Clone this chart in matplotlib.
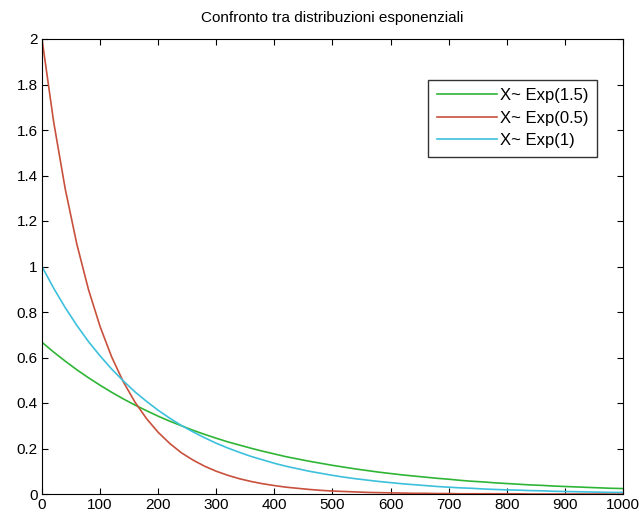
import matplotlib
matplotlib.use('Agg')
import matplotlib.pyplot as plt

plt.rcParams['font.family'] = ['Liberation Sans', 'DejaVu Sans']

# sample index (0..1000, every 20)
x = list(range(0, 1001, 20))

# values
exp_15 = [0.667, 0.624, 0.584, 0.546, 0.511, 0.478, 0.447, 0.418, 0.391, 0.366,
          0.342, 0.320, 0.300, 0.280, 0.262, 0.245, 0.229, 0.215, 0.201, 0.188,
          0.176, 0.164, 0.154, 0.144, 0.135, 0.126, 0.118, 0.110, 0.103, 0.096,
          0.090, 0.084, 0.079, 0.074, 0.069, 0.065, 0.060, 0.056, 0.053, 0.049,
          0.046, 0.043, 0.040, 0.038, 0.035, 0.033, 0.031, 0.029, 0.027, 0.025,
          0.024]
exp_05 = [2.000, 1.637, 1.341, 1.098, 0.899, 0.736, 0.602, 0.493, 0.404, 0.331,
          0.271, 0.222, 0.181, 0.149, 0.122, 0.100, 0.082, 0.067, 0.055, 0.045,
          0.037, 0.030, 0.025, 0.020, 0.016, 0.013, 0.011, 0.009, 0.007, 0.006,
          0.005, 0.004, 0.003, 0.003, 0.002, 0.002, 0.001, 0.001, 0.001, 0.001,
          0.001, 0.001, 0.000, 0.000, 0.000, 0.000, 0.000, 0.000, 0.000, 0.000,
          0.000]
exp_1 = [1.000, 0.905, 0.819, 0.741, 0.670, 0.607, 0.549, 0.497, 0.449, 0.407,
         0.368, 0.333, 0.301, 0.273, 0.247, 0.223, 0.202, 0.183, 0.165, 0.150,
         0.135, 0.122, 0.111, 0.100, 0.091, 0.082, 0.074, 0.067, 0.061, 0.055,
         0.050, 0.045, 0.041, 0.037, 0.033, 0.030, 0.027, 0.025, 0.022, 0.020,
         0.018, 0.017, 0.015, 0.014, 0.012, 0.011, 0.010, 0.009, 0.008, 0.007,
         0.007]
labels = ['X~ Exp(1.5)', 'X~ Exp(0.5)', 'X~ Exp(1)']

fig = plt.figure(figsize=(6.42, 5.2), dpi=100)
ax = fig.add_axes([0.0654, 0.05, 0.905, 0.875])

ax.plot(x, exp_15, color='#2fb536', lw=1.2, label=labels[0])
ax.plot(x, exp_05, color='#c8503c', lw=1.2, label=labels[1])
ax.plot(x, exp_1, color='#3cc0dc', lw=1.2, label=labels[2])

ax.set_xlim(0, 1000)
ax.set_ylim(0, 2)
ax.set_xticks(range(0, 1001, 100))
ax.set_yticks([0, 0.2, 0.4, 0.6, 0.8, 1, 1.2, 1.4, 1.6, 1.8, 2])
ax.set_yticklabels(['0', '0.2', '0.4', '0.6', '0.8', '1', '1.2', '1.4', '1.6', '1.8', '2'])
ax.tick_params(direction='in', top=True, right=True, labelsize=11, length=4, pad=3)
ax.set_title('Confronto tra distribuzioni esponenziali', fontsize=11, pad=12)

leg = ax.legend(loc='upper right', bbox_to_anchor=(0.955, 0.91), borderaxespad=0,
                fancybox=False, edgecolor='black', fontsize=12,
                handlelength=3.6, handletextpad=0.2, labelspacing=0.45,
                borderpad=0.5)
leg.get_frame().set_linewidth(1.0)

fig.savefig('out.png', dpi=100)
